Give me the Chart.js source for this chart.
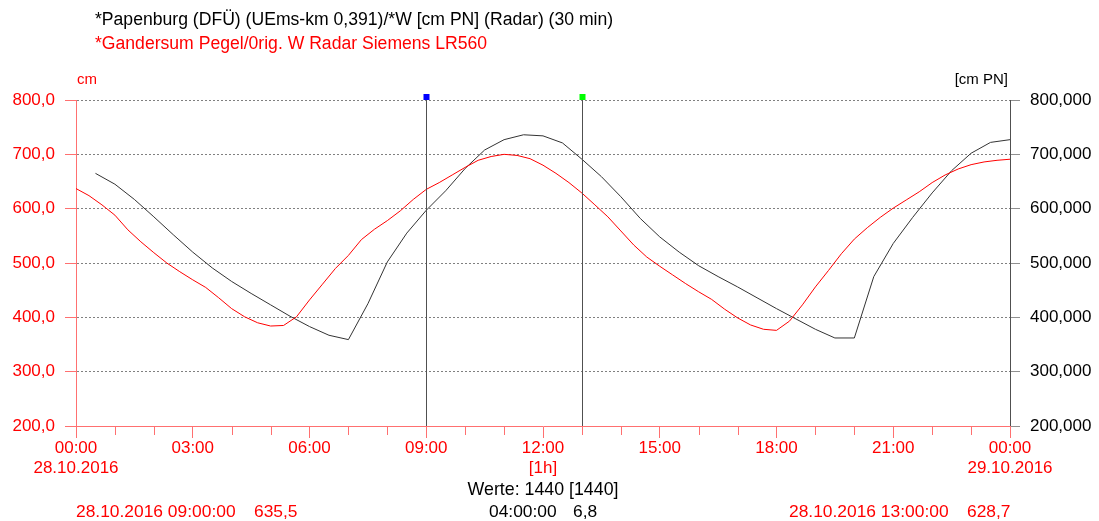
<!DOCTYPE html>
<html>
<head>
<meta charset="utf-8">
<script src="https://cdn.jsdelivr.net/npm/chart.js@4.4.1/dist/chart.umd.min.js"></script>
<style>
  html, body { margin: 0; padding: 0; background: #ffffff; }
  canvas { display: block; }
</style>
</head>
<body>
<canvas id="graficoPegel" width="1099" height="521"></canvas>
<script>
// Textos do grafico
const TITULO_PRETO = '*Papenburg (DFÜ) (UEms-km 0,391)/*W [cm PN] (Radar) (30 min)';
const TITULO_VERMELHO = '*Gandersum Pegel/0rig. W Radar Siemens LR560';
const DATA_INICIO = '28.10.2016';
const DATA_FIM = '29.10.2016';

// Papenburg, 30 min: horas e valores (cm PN)
const horasPapenburg = [0.5, 1, 1.5, 2, 2.5, 3, 3.5, 4, 4.5, 5, 5.5, 6, 6.5, 7, 7.5, 8,
  8.5, 9, 9.5, 10, 10.5, 11, 11.5, 12, 12.5, 13, 13.5, 14, 14.5, 15, 15.5, 16,
  16.5, 17, 17.5, 18, 18.5, 19, 19.5, 20, 20.5, 21, 21.5, 22, 22.5, 23, 23.5, 24];
const valoresPapenburg = [665, 645, 617, 585, 552, 520, 491, 466, 444, 423, 402, 383, 367, 359, 425, 502,
  555, 597, 633, 674, 708, 727, 736, 734, 721, 691, 659, 622, 582, 548, 520, 495,
  475, 456, 436, 416, 397, 378, 362, 362, 475, 536, 584, 629, 670, 702, 722, 727];

// Gandersum: uma leitura a cada 20 min, de 00:00 ate 24:00 (cm)
const PASSO_GANDERSUM_MIN = 20;
const valoresGandersum = [637, 624, 607, 588, 561, 539, 519, 500, 484, 469, 455, 436,
  416, 401, 390, 384, 385, 401, 432, 461, 490, 514, 543, 562,
  578, 596, 617, 635.5, 648, 662, 676, 689, 696, 700, 698, 692,
  680, 665, 648, 628.7, 607, 585, 559, 533, 511, 494, 478, 462,
  447, 433, 415, 399, 386, 378, 376, 393, 423, 456, 486, 517,
  544, 565, 584, 601, 616, 631, 648, 662, 673, 681, 686, 689, 691];

// Eixos
const Y_MIN = 200;
const Y_MAX = 800;
const Y_PASSO = 100;
const X_MAX_HORAS = 24;

// Cursores (hora, cor do quadradinho, texto de baixo)
const cursores = [
  { hora: 9, cor: '#0000ff', texto: ['28.10.2016 09:00:00', '635,5'] },
  { hora: 13, cor: '#00ff00', texto: ['28.10.2016 13:00:00', '628,7'] }
];
const textoWerte = 'Werte: 1440 [1440]';
const textoDiferenca = ['04:00:00', '6,8'];

const VERMELHO = '#ff0000';
const VERMELHO_EIXO = '#ff7070';
const CINZA_EIXO = '#505050';
const FONTE = '"Liberation Sans", Arial, sans-serif';

const pontosPapenburg = horasPapenburg.map((h, i) => ({ x: h, y: valoresPapenburg[i] }));
const pontosGandersum = valoresGandersum.map((v, i) => ({ x: i * PASSO_GANDERSUM_MIN / 60, y: v }));

function doisDigitos(n) {
  return String(n).padStart(2, '0');
}

// Desenha os textos, tracinhos menores e cursores
const pluginExtras = {
  id: 'extras',
  afterDraw(chart) {
    const ctx = chart.ctx;
    const area = chart.chartArea;
    const escalaX = chart.scales.x;

    ctx.save();
    ctx.textBaseline = 'middle';

    // titulos
    ctx.font = '17.6px ' + FONTE;
    ctx.textAlign = 'left';
    ctx.fillStyle = '#000000';
    ctx.fillText(TITULO_PRETO, 95, 20);
    ctx.fillStyle = VERMELHO;
    ctx.fillText(TITULO_VERMELHO, 95, 44);

    // unidades
    ctx.font = '15px ' + FONTE;
    ctx.fillStyle = VERMELHO;
    ctx.fillText('cm', 77, 80);
    ctx.textAlign = 'right';
    ctx.fillStyle = '#000000';
    ctx.fillText('[cm PN]', 1008, 80);

    // tracinhos de hora em hora
    ctx.strokeStyle = VERMELHO_EIXO;
    ctx.lineWidth = 1;
    for (let h = 0; h <= X_MAX_HORAS; h++) {
      if (h % 3 === 0) continue;
      const px = Math.round(escalaX.getPixelForValue(h)) + 0.5;
      ctx.beginPath();
      ctx.moveTo(px, area.bottom);
      ctx.lineTo(px, area.bottom + 9);
      ctx.stroke();
    }

    // cursores
    for (let i = 0; i < cursores.length; i++) {
      const px = Math.round(escalaX.getPixelForValue(cursores[i].hora)) + 0.5;
      ctx.strokeStyle = CINZA_EIXO;
      ctx.beginPath();
      ctx.moveTo(px, area.top - 2);
      ctx.lineTo(px, area.bottom);
      ctx.stroke();
      ctx.fillStyle = cursores[i].cor;
      ctx.fillRect(px - 3, area.top - 6, 6, 6);
    }

    // linhas de baixo
    ctx.font = '17.8px ' + FONTE;
    const meio = (area.left + area.right) / 2;
    ctx.textAlign = 'center';
    ctx.fillStyle = '#000000';
    ctx.fillText(textoWerte, meio, 490);

    ctx.font = '17.4px ' + FONTE;
    ctx.textAlign = 'left';
    ctx.fillText(textoDiferenca[0], 489, 512);
    ctx.fillText(textoDiferenca[1], 573, 512);

    ctx.fillStyle = VERMELHO;
    ctx.fillText(cursores[0].texto[0], 76, 512);
    ctx.fillText(cursores[0].texto[1], 254, 512);
    ctx.fillText(cursores[1].texto[0], 789, 512);
    ctx.fillText(cursores[1].texto[1], 967, 512);

    ctx.restore();
  }
};

const contexto = document.getElementById('graficoPegel').getContext('2d');
const grafico = new Chart(contexto, {
  type: 'line',
  data: {
    datasets: [
      {
        label: 'Gandersum',
        data: pontosGandersum,
        borderColor: VERMELHO,
        borderWidth: 1,
        pointRadius: 0,
        yAxisID: 'y'
      },
      {
        label: 'Papenburg',
        data: pontosPapenburg,
        borderColor: '#333333',
        borderWidth: 1,
        pointRadius: 0,
        yAxisID: 'y2'
      }
    ]
  },
  options: {
    responsive: false,
    animation: false,
    events: [],
    layout: { padding: { top: 100, left: 0, right: 0, bottom: 0 } },
    plugins: {
      legend: { display: false },
      tooltip: { enabled: false }
    },
    scales: {
      x: {
        type: 'linear',
        min: 0,
        max: X_MAX_HORAS,
        afterFit(escala) { escala.height = 95; },
        grid: {
          drawOnChartArea: false,
          tickLength: 12,
          tickColor: VERMELHO_EIXO
        },
        border: { color: VERMELHO_EIXO, z: 1 },
        ticks: {
          stepSize: 3,
          autoSkip: false,
          maxRotation: 0,
          padding: 0,
          color: VERMELHO,
          font: { family: FONTE, size: 17, lineHeight: 1.18 },
          callback(valor) {
            const hora = doisDigitos(valor % 24) + ':00';
            if (valor === 0) return [hora, DATA_INICIO];
            if (valor === X_MAX_HORAS) return [hora, DATA_FIM];
            if (valor === 12) return [hora, '[1h]'];
            return hora;
          }
        }
      },
      y: {
        position: 'left',
        min: Y_MIN,
        max: Y_MAX,
        afterFit(escala) { escala.width = 76; },
        grid: {
          color: '#808080',
          tickColor: VERMELHO_EIXO,
          tickLength: 11
        },
        border: { color: VERMELHO_EIXO, dash: [2, 2] },
        ticks: {
          stepSize: Y_PASSO,
          padding: 10,
          color: VERMELHO,
          font: { family: FONTE, size: 17 },
          callback(valor) { return valor.toFixed(1).replace('.', ','); }
        }
      },
      y2: {
        position: 'right',
        min: Y_MIN,
        max: Y_MAX,
        afterFit(escala) { escala.width = 89; },
        grid: {
          drawOnChartArea: false,
          tickColor: '#909090',
          tickLength: 10
        },
        border: { color: CINZA_EIXO },
        ticks: {
          stepSize: Y_PASSO,
          padding: 10,
          color: '#000000',
          font: { family: FONTE, size: 17 },
          callback(valor) { return valor.toFixed(3).replace('.', ','); }
        }
      }
    }
  },
  plugins: [pluginExtras]
});
</script>
</body>
</html>
